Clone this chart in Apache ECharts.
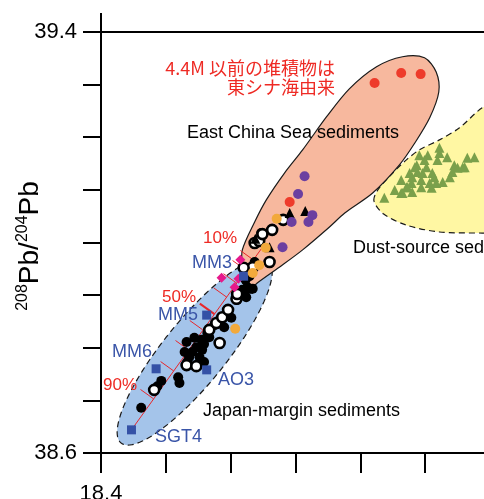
<!DOCTYPE html>
<html><head><meta charset="utf-8">
<script src="https://cdn.jsdelivr.net/npm/echarts@6/dist/echarts.min.js"></script>
<style>html,body{margin:0;padding:0;background:#fff}#c{width:484px;height:499px}</style>
</head><body><div id="c"></div>
<script>
// ---- axis tick labels ----
const xTickLabels = [18.4];
const yTickLabels = [38.6, 39.4];

// ---- field outlines (data coordinates) ----
const eastChinaSeaRegion = [[18.623,38.904],[18.618,38.952],[18.618,38.986],[18.637,39.039],[18.655,39.081],[18.683,39.132],[18.711,39.176],[18.748,39.239],[18.783,39.292],[18.825,39.334],[18.865,39.353],[18.899,39.351],[18.917,39.324],[18.921,39.286],[18.907,39.237],[18.884,39.189],[18.860,39.147],[18.819,39.094],[18.776,39.056],[18.752,39.029],[18.711,38.986],[18.675,38.953],[18.641,38.923]];
// Japan-margin field: ellipse given by the two ends of its long axis and one point on its side
const japanMarginEnds = [[18.431,38.619],[18.658,38.965]];
const japanMarginSide = [18.582,38.754];
const dustSourceRegion = [[18.821,39.079],[18.827,39.100],[18.850,39.132],[18.871,39.157],[18.891,39.176],[18.922,39.195],[18.953,39.218],[18.988,39.256],[19.030,39.280],[19.107,39.290],[19.169,39.233],[19.169,39.062],[19.061,39.018],[18.988,39.018],[18.922,39.020],[18.871,39.033],[18.836,39.054]];

// ---- samples ----
const blackCircles = [[18.462,38.686],[18.493,38.737],[18.487,38.727],[18.519,38.744],[18.521,38.733],[18.532,38.811],[18.536,38.782],[18.541,38.792],[18.547,38.801],[18.555,38.815],[18.559,38.807],[18.559,38.773],[18.552,38.782],[18.564,38.828],[18.575,38.843],[18.567,38.820],[18.590,38.839],[18.601,38.857],[18.595,38.872],[18.610,38.891],[18.618,38.910],[18.624,38.896],[18.626,38.915],[18.634,38.912],[18.629,38.936],[18.637,38.963],[18.529,38.792],[18.544,38.819],[18.556,38.796],[18.533,38.773],[18.583,38.853],[18.647,39.018],[18.623,38.929]];
const openCircles = [[18.482,38.720],[18.532,38.767],[18.547,38.765],[18.583,38.809],[18.567,38.834],[18.578,38.847],[18.587,38.858],[18.596,38.872],[18.609,38.893],[18.610,38.902],[18.634,38.953],[18.637,38.999],[18.644,39.003],[18.649,39.016],[18.660,38.963],[18.664,39.024],[18.681,39.043],[18.620,38.952]];
const blackTriangles = [[18.691,39.056],[18.715,39.060],[18.638,39.007],[18.660,38.991],[18.627,38.912]];
const orangeCircles = [[18.671,39.045],[18.654,38.990],[18.644,38.957],[18.634,38.942],[18.607,38.836]];
const purpleCircles = [[18.714,39.126],[18.704,39.092],[18.726,39.052],[18.694,39.039],[18.720,39.039],[18.680,38.991]];
const redCircles = [[18.822,39.303],[18.863,39.322],[18.893,39.320],[18.691,39.077]];
const magentaDiamonds = [[18.615,38.967],[18.586,38.933],[18.612,38.931],[18.606,38.915]];
const referenceNames = ['MM3','MM5','MM6','AO3','SGT4'];
const referenceX = [18.620,18.563,18.485,18.563,18.447];
const referenceY = [38.936,38.862,38.760,38.758,38.644];
const dustTriangles = [[18.837,39.085],[18.853,39.100],[18.863,39.094],[18.863,39.119],[18.876,39.132],[18.879,39.113],[18.880,39.096],[18.873,39.105],[18.887,39.147],[18.888,39.134],[18.894,39.105],[18.894,39.119],[18.896,39.132],[18.899,39.157],[18.902,39.143],[18.904,39.166],[18.907,39.113],[18.910,39.104],[18.914,39.124],[18.917,39.113],[18.922,39.170],[18.919,39.157],[18.927,39.115],[18.934,39.162],[18.938,39.124],[18.942,39.134],[18.945,39.147],[18.950,39.142],[18.961,39.143],[18.965,39.161],[18.976,39.162],[18.891,39.166],[18.880,39.124],[18.865,39.094],[18.922,39.180],[18.958,39.143],[18.911,39.132],[18.884,39.143],[18.871,39.105]];

// ---- mixing line and its 10% ticks ----
const mixingLine = [[18.447,38.644],[18.649,38.991]];
const mixingTickPct = [10,20,30,40,50,60,70,80,90];
const mixingTickX = [18.635,18.623,18.609,18.594,18.575,18.557,18.535,18.512,18.481];
const mixingTickY = [38.967,38.948,38.923,38.896,38.864,38.834,38.796,38.756,38.703];

const chart = echarts.init(document.getElementById('c'), null, {renderer:'canvas'});
const FONT = '"Liberation Sans", Arial, sans-serif';

function regionSeries(points, fill, dashed, z){
  return {type:'custom', coordinateSystem:'cartesian2d', clip:false, silent:true, z:z,
    data:[points[0]],
    renderItem:function(params, api){
      return {type:'polygon', shape:{points: points.map(function(p){return api.coord(p);}), smooth:0.3},
        style:{fill:fill, stroke:'#1a1a1a', lineWidth:1.2, lineDash: dashed?[6,4]:null}};
    }};
}
function ellipseSeries(ends, side, fill, dashed, z){
  return {type:'custom', coordinateSystem:'cartesian2d', clip:false, silent:true, z:z,
    data:[ends[0]],
    renderItem:function(params, api){
      const A = api.coord(ends[0]), B = api.coord(ends[1]), C = api.coord(side);
      const cx=(A[0]+B[0])/2, cy=(A[1]+B[1])/2;
      let ux=B[0]-A[0], uy=B[1]-A[1]; const a=Math.hypot(ux,uy)/2; ux/=2*a; uy/=2*a;
      const nx=-uy, ny=ux;
      const pu=(C[0]-cx)*ux+(C[1]-cy)*uy, pn=(C[0]-cx)*nx+(C[1]-cy)*ny;
      const b=Math.abs(pn)/Math.sqrt(Math.max(1e-6,1-(pu/a)*(pu/a)));
      const pts=[];
      for(let i=0;i<120;i++){const t=i/120*2*Math.PI; const ca=a*Math.cos(t), sb=b*Math.sin(t);
        pts.push([cx+ca*ux+sb*nx, cy+ca*uy+sb*ny]);}
      return {type:'polygon', shape:{points:pts},
        style:{fill:fill, stroke:'#1a1a1a', lineWidth:1.2, lineDash: dashed?[6,4]:null}};
    }};
}
function scatter(data, symbol, size, color, z, border){
  return {type:'scatter', data:data, symbol:symbol, symbolSize:size, z:z, silent:true,
    itemStyle: border ? {color:'#fff', borderColor:'#000', borderWidth:2.6, opacity:1} : {color:color, opacity:1}};
}

const option = {
  animation:false,
  grid:{left:101, top:32, bottom:46, right:-6, outerBoundsMode:'none', containLabel:false},
  xAxis:[{type:'value', min:18.4, max:19.0, interval:0.1,
    axisLine:{show:true, onZero:false, lineStyle:{color:'#000', width:2}},
    axisTick:{show:true, length:20, lineStyle:{color:'#000', width:2}},
    splitLine:{show:false},
    axisLabel:{margin:30, fontSize:22, color:'#000', fontFamily:FONT,
      formatter:function(v){return xTickLabels.some(function(t){return Math.abs(t-v)<1e-6;})? v.toFixed(1):'';}}},
    {type:'value', position:'top', min:18.4, max:19.0,
    axisLine:{show:true, onZero:false, lineStyle:{color:'#000', width:2}},
    axisTick:{show:false}, axisLabel:{show:false}, splitLine:{show:false}}],
  yAxis:{type:'value', min:38.6, max:39.4, interval:0.1,
    axisLine:{show:true, onZero:false, lineStyle:{color:'#000', width:2}},
    axisTick:{show:true, length:18, lineStyle:{color:'#000', width:2}},
    splitLine:{show:false},
    axisLabel:{margin:24, fontSize:22, color:'#000', fontFamily:FONT,
      formatter:function(v){return yTickLabels.some(function(t){return Math.abs(t-v)<1e-6;})? v.toFixed(1):'';}}},
  series:[
    regionSeries(dustSourceRegion, '#fff7a3', true, 1),
    ellipseSeries(japanMarginEnds, japanMarginSide, '#a4c4ea', true, 2),
    regionSeries(eastChinaSeaRegion, '#f7b89e', false, 3),
    {type:'line', data:mixingLine, symbol:'none', z:4, silent:true, lineStyle:{color:'#e8262a', width:1}},
    {type:'custom', coordinateSystem:'cartesian2d', z:4, silent:true, clip:false,
      data: mixingTickPct.map(function(p,i){return [mixingTickX[i], mixingTickY[i], p];}),
      renderItem:function(params, api){
        const p = api.coord([api.value(0), api.value(1)]);
        const a = api.coord(mixingLine[0]), b = api.coord(mixingLine[1]);
        let dx=b[0]-a[0], dy=b[1]-a[1]; const L=Math.hypot(dx,dy); dx/=L; dy/=L;
        const bold = api.value(2)===50;
        const len = bold?18:16;
        return {type:'line', shape:{x1:p[0], y1:p[1], x2:p[0]+dy*len, y2:p[1]-dx*len},
          style:{stroke:'#e8262a', lineWidth: bold?2:1}};
      }},
    scatter(blackCircles, 'circle', 10, '#000', 5),
    scatter(openCircles, 'circle', 10, '#fff', 6, true),
    scatter(blackTriangles, 'triangle', 10, '#000', 6),
    scatter(magentaDiamonds, 'diamond', 10, '#e6198b', 6),
    scatter(referenceX.map(function(x,i){return [x, referenceY[i], referenceNames[i]];}), 'rect', 9, '#3451a6', 6),
    scatter(orangeCircles, 'circle', 10, '#f2a93b', 7),
    scatter(purpleCircles, 'circle', 10, '#6b3fa0', 7),
    scatter(redCircles, 'circle', 10, '#ee3b2b', 7),
    scatter(dustTriangles, 'triangle', 10, '#7aa04b', 7)
  ],
  graphic:[
    {type:'line', shape:{x1:101, y1:13, x2:101, y2:32}, style:{stroke:'#000', lineWidth:2}, z:10},
    {type:'text', x:30, y:246, rotation:Math.PI/2, z:10,
      style:{text:'{s|208}{m|Pb/}{s|204}{m|Pb}', align:'center', verticalAlign:'middle',
        rich:{m:{fontSize:28, fontFamily:FONT, fill:'#000', lineHeight:30},
              s:{fontSize:16, fontFamily:FONT, fill:'#000', lineHeight:16, padding:[0,0,14,0]}}}},
    {type:'text', x:335, y:68, z:10, style:{text:'4.4M 以前の堆積物は', font:'18px "Noto Sans CJK JP"', fill:'#ee2a24', align:'right', verticalAlign:'middle'}},
    {type:'text', x:335, y:87, z:10, style:{text:'東シナ海由来', font:'18px "Noto Sans CJK JP"', fill:'#ee2a24', align:'right', verticalAlign:'middle'}},
    {type:'text', x:187, y:133, z:10, style:{text:'East China Sea sediments', font:'18px "Liberation Sans", Arial', fill:'#000', verticalAlign:'middle'}},
    {type:'text', x:353, y:248, z:10, style:{text:'Dust-source sediments', font:'18px "Liberation Sans", Arial', fill:'#000', verticalAlign:'middle'}},
    {type:'text', x:203, y:411, z:10, style:{text:'Japan-margin sediments', font:'18px "Liberation Sans", Arial', fill:'#000', verticalAlign:'middle'}},
    {type:'text', x:192, y:263, z:10, style:{text:'MM3', font:'18px "Liberation Sans", Arial', fill:'#3a55a8', verticalAlign:'middle'}},
    {type:'text', x:158, y:315, z:10, style:{text:'MM5', font:'18px "Liberation Sans", Arial', fill:'#3a55a8', verticalAlign:'middle'}},
    {type:'text', x:112, y:352, z:10, style:{text:'MM6', font:'18px "Liberation Sans", Arial', fill:'#3a55a8', verticalAlign:'middle'}},
    {type:'text', x:218, y:380, z:10, style:{text:'AO3', font:'18px "Liberation Sans", Arial', fill:'#3a55a8', verticalAlign:'middle'}},
    {type:'text', x:155, y:437, z:10, style:{text:'SGT4', font:'18px "Liberation Sans", Arial', fill:'#3a55a8', verticalAlign:'middle'}},
    {type:'text', x:203, y:238, z:10, style:{text:'10%', font:'17px "Liberation Sans", Arial', fill:'#ee2a24', verticalAlign:'middle'}},
    {type:'text', x:162, y:297, z:10, style:{text:'50%', font:'17px "Liberation Sans", Arial', fill:'#ee2a24', verticalAlign:'middle'}},
    {type:'text', x:103, y:385, z:10, style:{text:'90%', font:'17px "Liberation Sans", Arial', fill:'#ee2a24', verticalAlign:'middle'}}
  ]
};
chart.setOption(option);
</script></body></html>
